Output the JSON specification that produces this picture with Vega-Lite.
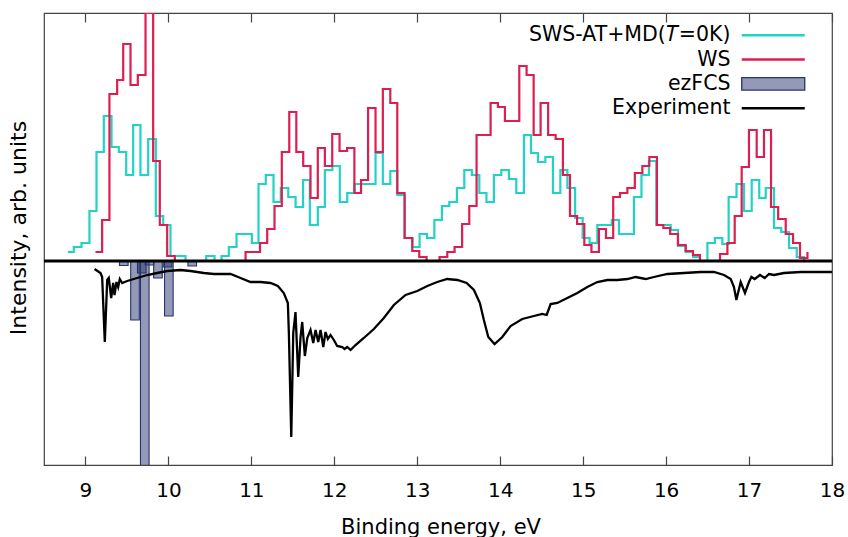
{
  "$schema": "https://vega.github.io/schema/vega-lite/v6.json",
  "width": 788,
  "height": 452,
  "autosize": {"type": "none"},
  "padding": {"left": 44, "top": 13, "right": 16, "bottom": 72},
  "background": "white",
  "title": {"text": "Intensity, arb. units", "orient": "left", "anchor": "middle", "frame": "group", "font": "DejaVu Sans", "fontSize": 22, "fontWeight": "normal", "color": "#000000", "offset": 12, "dx": 11},
  "config": {
    "font": "DejaVu Sans",
    "view": {"stroke": "#444444", "strokeWidth": 1.2},
    "scale": {"continuousPadding": 0},
    "axis": {"grid": false, "domain": false, "labelFont": "DejaVu Sans", "titleFont": "DejaVu Sans", "labelFontSize": 20, "titleFontSize": 21, "titleFontWeight": "normal", "labelColor": "#000000", "titleColor": "#000000", "tickColor": "#444444", "tickWidth": 1.2}
  },
  "datasets": {
    "cyan": [
      {"E":8.787,"I":9},{"E":8.859,"I":14},{"E":8.952,"I":18},{"E":9.048,"I":50},{"E":9.133,"I":109},{"E":9.221,"I":145},{"E":9.314,"I":114},{"E":9.402,"I":109},{"E":9.491,"I":86},{"E":9.575,"I":136},{"E":9.663,"I":86},{"E":9.756,"I":122},{"E":9.848,"I":45},{"E":9.937,"I":36},{"E":10.025,"I":5},{"E":10.113,"I":5},{"E":10.206,"I":0},{"E":10.456,"I":5},{"E":10.556,"I":0},{"E":10.640,"I":5},{"E":10.728,"I":14},{"E":10.821,"I":27},{"E":10.911,"I":27},{"E":11.006,"I":18},{"E":11.086,"I":77},{"E":11.174,"I":86},{"E":11.267,"I":59},{"E":11.355,"I":73},{"E":11.445,"I":64},{"E":11.533,"I":54},{"E":11.623,"I":81},{"E":11.705,"I":36},{"E":11.801,"I":54},{"E":11.886,"I":91},{"E":11.976,"I":95},{"E":12.066,"I":59},{"E":12.156,"I":68},{"E":12.244,"I":77},{"E":12.329,"I":77},{"E":12.413,"I":77},{"E":12.497,"I":108},{"E":12.585,"I":77},{"E":12.675,"I":90},{"E":12.759,"I":66},{"E":12.849,"I":23},{"E":12.941,"I":14},{"E":13.028,"I":27},{"E":13.118,"I":23},{"E":13.206,"I":41},{"E":13.297,"I":55},{"E":13.386,"I":59},{"E":13.478,"I":73},{"E":13.567,"I":91},{"E":13.658,"I":86},{"E":13.748,"I":68},{"E":13.834,"I":59},{"E":13.924,"I":86},{"E":14.013,"I":91},{"E":14.105,"I":82},{"E":14.194,"I":68},{"E":14.286,"I":126},{"E":14.371,"I":108},{"E":14.455,"I":99},{"E":14.544,"I":104},{"E":14.636,"I":68},{"E":14.725,"I":91},{"E":14.810,"I":73},{"E":14.903,"I":43},{"E":14.994,"I":23},{"E":15.078,"I":18},{"E":15.171,"I":36},{"E":15.259,"I":36},{"E":15.346,"I":41},{"E":15.432,"I":27},{"E":15.524,"I":27},{"E":15.612,"I":64},{"E":15.703,"I":86},{"E":15.793,"I":100},{"E":15.883,"I":36},{"E":15.967,"I":36},{"E":16.055,"I":31},{"E":16.143,"I":15},{"E":16.236,"I":9},{"E":16.324,"I":4},{"E":16.408,"I":0},{"E":16.498,"I":18},{"E":16.588,"I":23},{"E":16.678,"I":17},{"E":16.754,"I":64},{"E":16.849,"I":77},{"E":16.939,"I":50},{"E":17.032,"I":81},{"E":17.123,"I":63},{"E":17.201,"I":73},{"E":17.301,"I":33},{"E":17.388,"I":29},{"E":17.482,"I":13},{"E":17.575,"I":4},{"E":17.663,"I":0}
    ],
    "red": [
      {"E":9.121,"I":9},{"E":9.201,"I":41},{"E":9.289,"I":167},{"E":9.382,"I":181},{"E":9.455,"I":217},{"E":9.543,"I":176},{"E":9.631,"I":186},{"E":9.724,"I":248},{"E":9.816,"I":100},{"E":9.896,"I":36},{"E":9.985,"I":5},{"E":10.077,"I":0},{"E":10.930,"I":9},{"E":11.016,"I":9},{"E":11.104,"I":18},{"E":11.191,"I":32},{"E":11.279,"I":55},{"E":11.367,"I":109},{"E":11.457,"I":149},{"E":11.542,"I":109},{"E":11.625,"I":95},{"E":11.713,"I":63},{"E":11.801,"I":113},{"E":11.886,"I":95},{"E":11.975,"I":127},{"E":12.063,"I":110},{"E":12.154,"I":113},{"E":12.242,"I":68},{"E":12.322,"I":81},{"E":12.407,"I":153},{"E":12.497,"I":109},{"E":12.585,"I":172},{"E":12.675,"I":158},{"E":12.759,"I":68},{"E":12.847,"I":23},{"E":12.940,"I":10},{"E":13.024,"I":4},{"E":13.112,"I":0},{"E":13.269,"I":4},{"E":13.362,"I":9},{"E":13.450,"I":14},{"E":13.541,"I":37},{"E":13.627,"I":55},{"E":13.715,"I":126},{"E":13.800,"I":126},{"E":13.884,"I":158},{"E":13.972,"I":154},{"E":14.057,"I":140},{"E":14.144,"I":140},{"E":14.230,"I":195},{"E":14.318,"I":186},{"E":14.403,"I":126},{"E":14.487,"I":158},{"E":14.578,"I":126},{"E":14.668,"I":122},{"E":14.756,"I":86},{"E":14.841,"I":45},{"E":14.927,"I":37},{"E":15.014,"I":16},{"E":15.100,"I":9},{"E":15.190,"I":32},{"E":15.275,"I":23},{"E":15.362,"I":64},{"E":15.444,"I":68},{"E":15.533,"I":73},{"E":15.623,"I":88},{"E":15.714,"I":95},{"E":15.798,"I":104},{"E":15.889,"I":36},{"E":15.967,"I":33},{"E":16.049,"I":27},{"E":16.143,"I":16},{"E":16.236,"I":10},{"E":16.324,"I":6},{"E":16.408,"I":0},{"E":16.650,"I":7},{"E":16.739,"I":18},{"E":16.827,"I":45},{"E":16.911,"I":94},{"E":16.999,"I":131},{"E":17.092,"I":104},{"E":17.180,"I":131},{"E":17.265,"I":54},{"E":17.351,"I":42},{"E":17.442,"I":27},{"E":17.530,"I":18},{"E":17.614,"I":3},{"E":17.704,"I":9}
    ],
    "bars": [
      {"E":9.462,"I":-4.5},{"E":9.597,"I":-59},{"E":9.679,"I":-12},{"E":9.715,"I":-215},{"E":9.772,"I":-4},{"E":9.874,"I":-17},{"E":9.989,"I":-6},{"E":10.005,"I":-55},{"E":10.287,"I":-5}
    ],
    "exp": [
      {"E":9.109,"I":-8},{"E":9.181,"I":-12},{"E":9.201,"I":-16},{"E":9.233,"I":-81},{"E":9.262,"I":-19},{"E":9.281,"I":-17},{"E":9.310,"I":-37},{"E":9.334,"I":-22},{"E":9.350,"I":-34},{"E":9.374,"I":-21},{"E":9.394,"I":-26},{"E":9.414,"I":-18},{"E":9.443,"I":-22},{"E":9.503,"I":-20},{"E":9.623,"I":-17},{"E":9.744,"I":-14},{"E":9.865,"I":-12},{"E":9.985,"I":-10},{"E":10.146,"I":-9},{"E":10.266,"I":-10},{"E":10.427,"I":-12},{"E":10.547,"I":-13},{"E":10.749,"I":-13},{"E":10.869,"I":-17},{"E":10.990,"I":-21},{"E":11.110,"I":-21},{"E":11.231,"I":-22},{"E":11.319,"I":-25},{"E":11.391,"I":-32},{"E":11.440,"I":-42},{"E":11.452,"I":-72},{"E":11.481,"I":-176},{"E":11.505,"I":-72},{"E":11.532,"I":-51},{"E":11.565,"I":-116},{"E":11.593,"I":-76},{"E":11.613,"I":-61},{"E":11.645,"I":-95},{"E":11.674,"I":-77},{"E":11.713,"I":-69},{"E":11.746,"I":-82},{"E":11.774,"I":-69},{"E":11.806,"I":-81},{"E":11.834,"I":-69},{"E":11.867,"I":-86},{"E":11.894,"I":-71},{"E":11.922,"I":-78},{"E":11.955,"I":-74},{"E":11.994,"I":-79},{"E":12.035,"I":-85},{"E":12.096,"I":-86},{"E":12.123,"I":-88},{"E":12.156,"I":-86},{"E":12.196,"I":-89},{"E":12.256,"I":-84},{"E":12.356,"I":-77},{"E":12.477,"I":-68},{"E":12.597,"I":-57},{"E":12.718,"I":-44},{"E":12.859,"I":-34},{"E":13.000,"I":-30},{"E":13.121,"I":-25},{"E":13.241,"I":-21},{"E":13.362,"I":-18},{"E":13.483,"I":-19},{"E":13.595,"I":-22},{"E":13.683,"I":-29},{"E":13.755,"I":-42},{"E":13.803,"I":-59},{"E":13.856,"I":-76},{"E":13.932,"I":-83},{"E":14.025,"I":-76},{"E":14.125,"I":-65},{"E":14.266,"I":-58},{"E":14.406,"I":-55},{"E":14.508,"I":-53},{"E":14.560,"I":-54},{"E":14.608,"I":-43},{"E":14.689,"I":-42},{"E":14.809,"I":-37},{"E":14.930,"I":-32},{"E":15.050,"I":-26},{"E":15.171,"I":-21},{"E":15.292,"I":-19},{"E":15.412,"I":-19},{"E":15.533,"I":-18},{"E":15.633,"I":-16},{"E":15.754,"I":-18},{"E":15.854,"I":-16},{"E":16.015,"I":-13},{"E":16.215,"I":-12},{"E":16.417,"I":-11},{"E":16.577,"I":-11},{"E":16.698,"I":-14},{"E":16.779,"I":-18},{"E":16.818,"I":-26},{"E":16.847,"I":-39},{"E":16.899,"I":-21},{"E":16.951,"I":-32},{"E":16.999,"I":-21},{"E":17.028,"I":-16},{"E":17.068,"I":-18},{"E":17.132,"I":-14},{"E":17.189,"I":-17},{"E":17.240,"I":-13},{"E":17.301,"I":-14},{"E":17.421,"I":-12},{"E":17.623,"I":-11},{"E":17.824,"I":-11},{"E":18.0,"I":-11}
    ]
  },
  "resolve": {"axis": {"x": "independent"}},
  "layer": [
    {
      "data": {"name": "cyan"},
      "mark": {"type": "line", "interpolate": "step-after", "strokeWidth": 2.2, "clip": true},
      "encoding": {
        "x": {"field": "E", "type": "quantitative", "scale": {"domain": [8.5, 18], "nice": false, "zero": false, "padding": 0},
              "axis": {"orient": "bottom", "values": [9,10,11,12,13,14,15,16,17,18], "format": "d", "tickSize": -9, "labelPadding": 24, "labelFlush": false, "labelOverlap": false, "title": "Binding energy, eV", "titleX": 396.5, "titleY": 68, "titleAlign": "center", "titleBaseline": "alphabetic"}},
        "y": {"field": "I", "type": "quantitative", "scale": {"domain": [-204, 248], "nice": false, "zero": false, "padding": 0}, "axis": null},
        "color": {"datum": "SWS-AT+MD(𝑇=0K)", "type": "nominal",
                  "scale": {"domain": ["SWS-AT+MD(𝑇=0K)", "WS", "ezFCS", "Experiment"], "range": ["#22d3c5", "#dc1e50", "#27346e", "#000000"]},
                  "legend": {"orient": "none", "legendX": 719, "legendY": 12, "title": null, "padding": 0,
                             "labelFont": "DejaVu Sans", "labelFontSize": 20.5, "labelColor": "#000000", "labelAlign": "right", "labelOffset": -53, "labelLimit": 400,
                             "symbolSize": 400, "symbolStrokeWidth": 2.5, "rowPadding": 3.3,
                             "encode": {"symbols": {"update": {
                               "shape": {"signal": "datum.value === 'ezFCS' ? 'M-3.15,-0.62H3.15V0.62H-3.15Z' : 'M-3.15,0H3.15'"},
                               "fill": {"signal": "datum.value === 'ezFCS' ? '#8f95b3' : 'transparent'"},
                               "fillOpacity": {"signal": "datum.value === 'ezFCS' ? 0.5 : 1"},
                               "stroke": {"signal": "datum.value === 'ezFCS' ? '#27346e' : (datum.value === 'WS' ? '#dc1e50' : (datum.value === 'Experiment' ? '#000000' : '#22d3c5'))"},
                               "strokeWidth": {"signal": "datum.value === 'ezFCS' ? 1.3 : 2.5"},
                               "opacity": {"value": 1}
                             }}}}}
      }
    },
    {
      "data": {"name": "red"},
      "mark": {"type": "line", "interpolate": "step-after", "strokeWidth": 2.2, "clip": true},
      "encoding": {
        "x": {"field": "E", "type": "quantitative", "axis": {"orient": "top", "values": [9,10,11,12,13,14,15,16,17,18], "labels": false, "tickSize": -9, "title": null}},
        "y": {"field": "I", "type": "quantitative", "axis": null},
        "color": {"datum": "WS", "type": "nominal"}
      }
    },
    {
      "data": {"name": "bars"},
      "mark": {"type": "bar", "width": 8.6, "fillOpacity": 0.5, "stroke": "#27346e", "strokeWidth": 1.1, "clip": true},
      "encoding": {
        "x": {"field": "E", "type": "quantitative", "axis": null},
        "y": {"field": "I", "type": "quantitative", "stack": null, "axis": null},
        "color": {"datum": "ezFCS", "type": "nominal"}
      }
    },
    {
      "data": {"name": "exp"},
      "mark": {"type": "line", "strokeWidth": 2.3, "clip": true},
      "encoding": {
        "x": {"field": "E", "type": "quantitative", "axis": null},
        "y": {"field": "I", "type": "quantitative", "axis": null},
        "color": {"datum": "Experiment", "type": "nominal"}
      }
    },
    {
      "data": {"values": [{}]},
      "mark": {"type": "rule", "color": "#000000", "strokeWidth": 2.8},
      "encoding": {"y": {"datum": 0, "type": "quantitative", "axis": null}}
    }
  ]
}
